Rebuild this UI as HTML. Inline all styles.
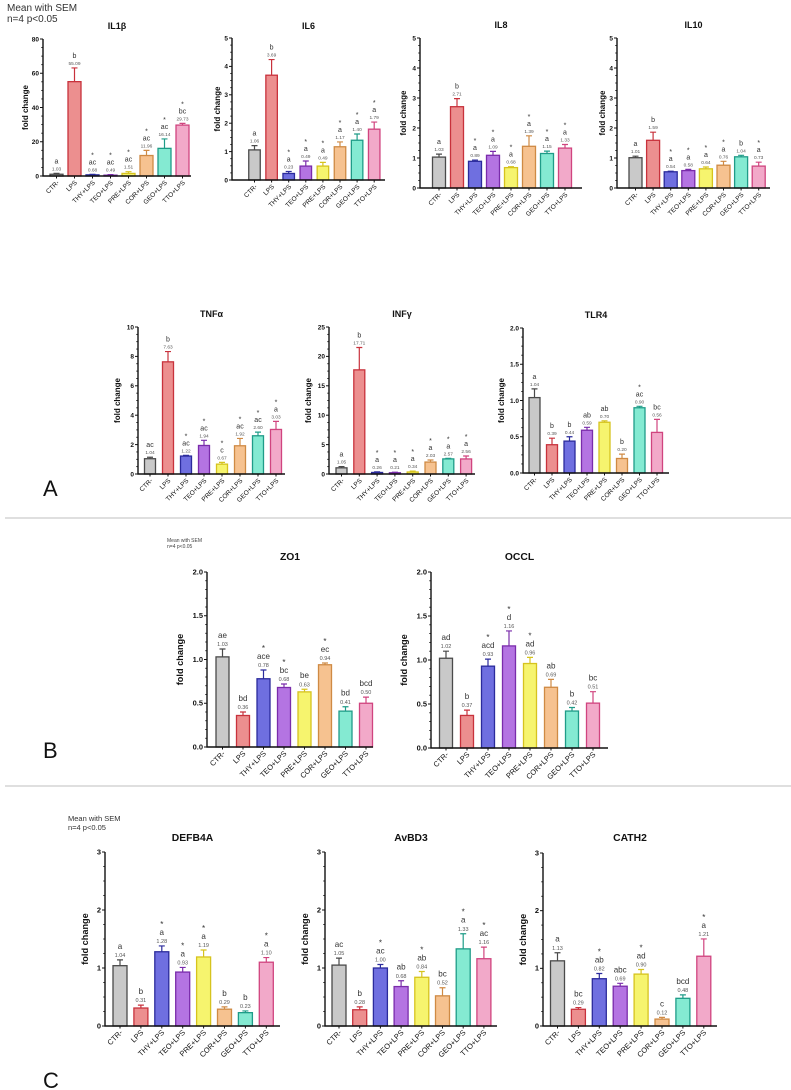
<!DOCTYPE html>
<html><head><meta charset="utf-8"><style>
html,body{margin:0;padding:0;background:#fff;}
svg{display:block;font-family:"Liberation Sans",sans-serif;}
</style></head><body>
<svg id="fig" width="791" height="1090" viewBox="0 0 791 1090" xmlns="http://www.w3.org/2000/svg">
<rect x="0" y="0" width="791" height="1090" fill="#fff"/>
<text x="7" y="11" font-size="10" fill="#333">Mean with SEM</text>
<text x="7" y="22" font-size="10" fill="#333">n=4 p&lt;0.05</text>
<text x="43" y="496" font-size="22" fill="#111">A</text>
<line x1="5" y1="518" x2="791" y2="518" stroke="#ccc" stroke-width="1.2"/>
<text x="167" y="542" font-size="5" fill="#444">Mean with SEM</text>
<text x="167" y="548" font-size="5" fill="#444">n=4 p&lt;0.05</text>
<text x="43" y="758" font-size="22" fill="#111">B</text>
<line x1="5" y1="786" x2="791" y2="786" stroke="#ccc" stroke-width="1.2"/>
<text x="68" y="821" font-size="7.5" fill="#333">Mean with SEM</text>
<text x="68" y="830" font-size="7.5" fill="#333">n=4 p&lt;0.05</text>
<text x="43" y="1088" font-size="22" fill="#111">C</text>
</svg>
<script>
const categories = ["CTR-","LPS","THY+LPS","TEO+LPS","PRE+LPS","COR+LPS","GEO+LPS","TTO+LPS"];

const il1bValues = [1.03,55.09,0.68,0.49,1.51,11.96,16.14,29.73];
const il1bSem = [0.5,8,0.3,0.3,1,3,5.5,1];
const il1bLetters = ["a","b","ac","ac","ac","ac","ac","bc"];
const il1bStars = [0,0,1,1,1,1,1,1];
const il1bTicks = [0,20,40,60,80];

const il6Values = [1.06,3.69,0.23,0.49,0.49,1.17,1.40,1.79];
const il6Sem = [0.15,0.55,0.07,0.18,0.13,0.17,0.22,0.25];
const il6Letters = ["a","b","a","a","a","a","a","a"];
const il6Stars = [0,0,1,1,1,1,1,1];
const il6Ticks = [0,1,2,3,4,5];

const il8Values = [1.03,2.71,0.89,1.09,0.68,1.39,1.15,1.33];
const il8Sem = [0.1,0.27,0.04,0.13,0.03,0.35,0.08,0.12];
const il8Letters = ["a","b","a","a","a","a","a","a"];
const il8Stars = [0,0,1,1,1,1,1,1];
const il8Ticks = [0,1,2,3,4,5];

const il10Values = [1.01,1.59,0.54,0.58,0.64,0.76,1.04,0.73];
const il10Sem = [0.05,0.27,0.02,0.04,0.06,0.13,0.05,0.13];
const il10Letters = ["a","b","a","a","a","a","b","a"];
const il10Stars = [0,0,1,1,1,1,0,1];
const il10Ticks = [0,1,2,3,4,5];

const tnfValues = [1.04,7.63,1.22,1.94,0.67,1.92,2.60,3.03];
const tnfSem = [0.1,0.7,0.05,0.35,0.12,0.5,0.25,0.55];
const tnfLetters = ["ac","b","ac","ac","c","ac","ac","a"];
const tnfStars = [0,0,1,1,1,1,1,1];
const tnfTicks = [0,2,4,6,8,10];

const infValues = [1.05,17.71,0.26,0.21,0.34,2.03,2.57,2.56];
const infSem = [0.2,3.8,0.1,0.1,0.15,0.35,0.1,0.5];
const infLetters = ["a","b","a","a","a","a","a","a"];
const infStars = [0,0,1,1,1,1,1,1];
const infTicks = [0,5,10,15,20,25];

const tlr4Values = [1.04,0.39,0.44,0.59,0.70,0.20,0.90,0.56];
const tlr4Sem = [0.12,0.09,0.06,0.04,0.02,0.06,0.02,0.18];
const tlr4Letters = ["a","b","b","ab","ab","b","ac","bc"];
const tlr4Stars = [0,0,0,0,0,0,1,0];
const tlr4Ticks = [0,0.5,1.0,1.5,2.0];

const zo1Values = [1.03,0.36,0.78,0.68,0.63,0.94,0.41,0.50];
const zo1Sem = [0.09,0.04,0.1,0.04,0.03,0.02,0.05,0.07];
const zo1Letters = ["ae","bd","ace","bc","be","ec","bd","bcd"];
const zo1Stars = [0,0,1,1,0,1,0,0];
const zo1Ticks = [0,0.5,1.0,1.5,2.0];

const occlValues = [1.02,0.37,0.93,1.16,0.96,0.69,0.42,0.51];
const occlSem = [0.08,0.06,0.08,0.17,0.07,0.09,0.04,0.13];
const occlLetters = ["ad","b","acd","d","ad","ab","b","bc"];
const occlStars = [0,0,1,1,1,0,0,0];
const occlTicks = [0,0.5,1.0,1.5,2.0];

const defbValues = [1.04,0.31,1.28,0.93,1.19,0.29,0.23,1.10];
const defbSem = [0.1,0.05,0.1,0.08,0.12,0.04,0.03,0.08];
const defbLetters = ["a","b","a","a","a","b","b","a"];
const defbStars = [0,0,1,1,1,0,0,1];
const defbTicks = [0,1,2,3];

const avbdValues = [1.05,0.28,1.00,0.68,0.84,0.52,1.33,1.16];
const avbdSem = [0.12,0.05,0.06,0.1,0.1,0.14,0.26,0.2];
const avbdLetters = ["ac","b","ac","ab","ab","bc","a","ac"];
const avbdStars = [0,0,1,0,1,0,1,1];
const avbdTicks = [0,1,2,3];

const cathValues = [1.13,0.29,0.82,0.69,0.90,0.12,0.48,1.21];
const cathSem = [0.14,0.03,0.09,0.05,0.08,0.03,0.06,0.3];
const cathLetters = ["a","bc","ab","abc","ad","c","bcd","a"];
const cathStars = [0,0,1,0,1,0,0,1];
const cathTicks = [0,1,2,3];

const fills = ["#c9c9c9","#ec8f8f","#6f6fe0","#b474e2","#f6f46e","#f6c290","#84ead2","#f2a9c9"];
const strokes = ["#4a4a4a","#c8323c","#2b2b9c","#7a2cab","#d6c31e","#cf8a44","#1f9c88","#d0447f"];
const NS = "http://www.w3.org/2000/svg";
const svg = document.getElementById("fig");

function mk(tag, attrs, parent){
  const e = document.createElementNS(NS, tag);
  for (const k in attrs) e.setAttribute(k, attrs[k]);
  (parent||svg).appendChild(e);
  return e;
}

function chart(g){
  const grp = mk("g", {});
  
  
  const yMax = g.ticks[g.ticks.length-1];
  const yS = v => g.bottom - (v / yMax) * (g.bottom - g.top);
  const xS = i => g.x0 + i * g.step;
  const fs = g.fs || 1;
  const t = mk("text", {x:(g.axisX + g.axisEnd)/2, y:g.titleY, "font-size":9*fs, "font-weight":"bold", "text-anchor":"middle", fill:"#111"}, grp);
  t.textContent = g.title;
  
  
  const yl = mk("text", {x:0, y:0, "font-size":8*fs, "font-weight":"bold", "text-anchor":"middle", fill:"#111",
    transform:"translate(" + (g.axisX - g.ytOff) + "," + ((g.top + g.bottom)/2) + ") rotate(-90)"}, grp);
  yl.textContent = "fold change";
  
  
  g.values.forEach((v, i) => {
    const cx = xS(i), top = yS(v), et = yS(v + g.sem[i]);
    const b = mk("rect", {x:cx - g.w/2, y:top, width:g.w, height:g.bottom - top, fill:fills[i], stroke:strokes[i], "stroke-width":1.3}, grp);
    
    
    const eb = mk("path", {d:"M"+cx+","+top+"V"+et+"M"+(cx-3)+","+et+"H"+(cx+3), stroke:strokes[i], "stroke-width":1.2, fill:"none"}, grp);
    
    
    let ly = et - 3;
    const vt = mk("text", {x:cx, y:ly, "font-size":4.8*fs, "text-anchor":"middle", fill:"#555"}, grp);
    vt.textContent = v.toFixed(2);
    
    
    ly -= 7*fs;
    const lt = mk("text", {x:cx, y:ly, "font-size":7*fs, "text-anchor":"middle", fill:"#333"}, grp);
    lt.textContent = g.letters[i];
    
    
    if (g.stars[i]) {
      const st = mk("text", {x:cx, y:ly - 7*fs, "font-size":7*fs, "text-anchor":"middle", fill:"#333"}, grp);
      st.textContent = "*";
      
      
    }
    const xl = mk("text", {x:0, y:0, "font-size":6.5*fs, "text-anchor":"end", fill:"#111",
      transform:"translate(" + (cx + 3) + "," + (g.bottom + 7) + ") rotate(-45)"}, grp);
    xl.textContent = categories[i];
    
    
  });
  const ax = mk("path", {d:"M"+g.axisX+","+g.top+"V"+g.bottom+"H"+g.axisEnd, stroke:"#111", "stroke-width":1.4, fill:"none"}, grp);
  
  
  const stepT = g.ticks[1] - g.ticks[0];
  const nMinor = g.minor || 4;
  for (let k = 0; k < g.ticks.length; k++) {
    const tv = g.ticks[k], ty = yS(tv);
    mk("line", {x1:g.axisX-3, y1:ty, x2:g.axisX, y2:ty, stroke:"#111", "stroke-width":1}, grp);
    const tl = mk("text", {x:g.axisX-4, y:ty+2.3, "font-size":6.5*fs, "font-weight":"bold", "text-anchor":"end", fill:"#111"}, grp);
    tl.textContent = g.dec ? tv.toFixed(1) : String(tv);
    
    
    if (k < g.ticks.length - 1) {
      for (let m = 1; m < nMinor; m++) {
        const my = yS(tv + stepT * m / nMinor);
        mk("line", {x1:g.axisX-1.8, y1:my, x2:g.axisX, y2:my, stroke:"#111", "stroke-width":0.8}, grp);
      }
    }
  }
  g.values.forEach((v, i) => {
    mk("line", {x1:xS(i), y1:g.bottom, x2:xS(i), y2:g.bottom+2.5, stroke:"#111", "stroke-width":1}, grp);
  });
}

chart({id:"il1b", title:"IL1\u03b2", values:il1bValues, sem:il1bSem, letters:il1bLetters, stars:il1bStars, ticks:il1bTicks,
  axisX:43, axisEnd:191, top:39, bottom:176, x0:56.5, step:18, w:13, titleY:29, ytOff:15});
chart({id:"il6", title:"IL6", values:il6Values, sem:il6Sem, letters:il6Letters, stars:il6Stars, ticks:il6Ticks,
  axisX:232, axisEnd:385, top:38, bottom:180, x0:254.5, step:17.1, w:11.5, titleY:29, ytOff:12});
chart({id:"il8", title:"IL8", values:il8Values, sem:il8Sem, letters:il8Letters, stars:il8Stars, ticks:il8Ticks,
  axisX:420, axisEnd:582, top:38, bottom:188, x0:439, step:18, w:13, titleY:28, ytOff:14});
chart({id:"il10", title:"IL10", values:il10Values, sem:il10Sem, letters:il10Letters, stars:il10Stars, ticks:il10Ticks,
  axisX:617, axisEnd:770, top:38, bottom:188, x0:635.5, step:17.6, w:13, titleY:28, ytOff:12});
chart({id:"tnf", title:"TNF\u03b1", values:tnfValues, sem:tnfSem, letters:tnfLetters, stars:tnfStars, ticks:tnfTicks,
  axisX:138, axisEnd:285, top:327, bottom:474, x0:150, step:18, w:11, titleY:317, ytOff:18});
chart({id:"inf", title:"INF\u03b3", values:infValues, sem:infSem, letters:infLetters, stars:infStars, ticks:infTicks,
  axisX:329, axisEnd:475, top:327, bottom:474, x0:341.5, step:17.8, w:11, titleY:317, ytOff:18});
chart({id:"tlr4", title:"TLR4", values:tlr4Values, sem:tlr4Sem, letters:tlr4Letters, stars:tlr4Stars, ticks:tlr4Ticks, dec:true,
  axisX:523, axisEnd:669, top:328, bottom:473, x0:534.5, step:17.5, w:11, titleY:318, ytOff:19});
chart({id:"zo1", title:"ZO1", values:zo1Values, sem:zo1Sem, letters:zo1Letters, stars:zo1Stars, ticks:zo1Ticks, dec:true, fs:1.15,
  axisX:207, axisEnd:373, top:572, bottom:747, x0:222.5, step:20.5, w:13, titleY:560, ytOff:24, minor:5});
chart({id:"occl", title:"OCCL", values:occlValues, sem:occlSem, letters:occlLetters, stars:occlStars, ticks:occlTicks, dec:true, fs:1.15,
  axisX:431, axisEnd:608, top:572, bottom:748, x0:446, step:21, w:13, titleY:560, ytOff:24, minor:5});
chart({id:"defb4a", title:"DEFB4A", values:defbValues, sem:defbSem, letters:defbLetters, stars:defbStars, ticks:defbTicks, fs:1.15,
  axisX:105, axisEnd:280, top:852, bottom:1026, x0:120, step:20.9, w:14, titleY:841, ytOff:17});
chart({id:"avbd3", title:"AvBD3", values:avbdValues, sem:avbdSem, letters:avbdLetters, stars:avbdStars, ticks:avbdTicks, fs:1.15,
  axisX:325, axisEnd:497, top:852, bottom:1026, x0:339, step:20.7, w:14, titleY:841, ytOff:17});
chart({id:"cath2", title:"CATH2", values:cathValues, sem:cathSem, letters:cathLetters, stars:cathStars, ticks:cathTicks, fs:1.15,
  axisX:543, axisEnd:717, top:853, bottom:1026, x0:557.5, step:20.9, w:14, titleY:841, ytOff:17});
</script>
</body></html>
